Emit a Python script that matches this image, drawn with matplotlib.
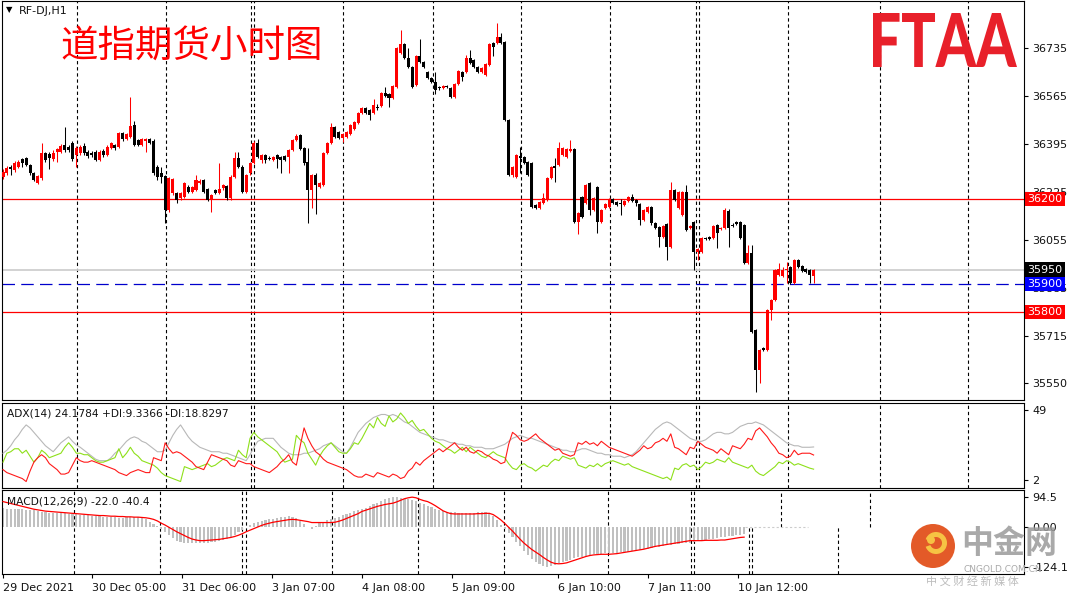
import matplotlib
matplotlib.use("Agg")
import matplotlib.pyplot as plt
import numpy as np
from matplotlib.patches import Circle, PathPatch, Wedge
from matplotlib.textpath import TextPath
from matplotlib.font_manager import FontProperties
from matplotlib.path import Path
from matplotlib.transforms import blended_transform_factory

# ---- hourly candles RF-DJ ----
opens = [
    36278, 36292, 36313, 36303, 36313, 36342, 36345, 36320, 36292, 36257,
    36274, 36363, 36359, 36342, 36366, 36366, 36391, 36384, 36398, 36356,
    36363, 36388, 36366, 36363, 36366, 36338, 36370, 36356, 36381, 36391,
    36384, 36434, 36412, 36419, 36462, 36409, 36391, 36405, 36412, 36405,
    36313, 36292, 36281, 36161, 36221, 36221, 36204, 36207, 36242, 36225,
    36232, 36257, 36267, 36235, 36196, 36232, 36221, 36239, 36246, 36204,
    36278, 36345, 36313, 36225, 36292, 36327, 36398, 36338, 36356, 36345,
    36338, 36356, 36349, 36352, 36349, 36373, 36409, 36427, 36381, 36331,
    36232, 36285, 36242, 36250, 36363, 36398, 36455, 36437, 36416, 36419,
    36430, 36448, 36469, 36504, 36522, 36515, 36504, 36526, 36529, 36575,
    36572, 36558, 36596, 36717, 36749, 36699, 36667, 36604, 36706, 36685,
    36650, 36628, 36614, 36596, 36593, 36600, 36593, 36561, 36607, 36650,
    36650, 36699, 36692, 36667, 36650, 36639, 36674, 36752, 36752, 36773,
    36756, 36480, 36285, 36278, 36352, 36349, 36331, 36327, 36179, 36168,
    36186, 36196, 36274, 36317, 36320, 36356, 36349, 36370, 36377, 36119,
    36207, 36186, 36257, 36161, 36242, 36119, 36168, 36172, 36200, 36189,
    36186, 36179, 36193, 36207, 36196, 36182, 36126, 36154, 36172, 36115,
    36101, 36065, 36112, 36030, 36232, 36168, 36143, 36225, 36097, 36119,
    36012, 36012, 36062, 36065, 36062, 36108, 36094, 36097, 36158, 36108,
    36119, 36119, 36108, 35973, 36009, 35736, 35595, 35673, 35665, 35807,
    35842, 35931, 35927, 35949, 35959, 35903, 35984, 35963, 35952, 35949, 35927,
]
closes = [
    36296, 36310, 36306, 36327, 36331, 36327, 36320, 36292, 36267, 36281,
    36363, 36338, 36345, 36363, 36377, 36388, 36373, 36373, 36342, 36381,
    36384, 36363, 36352, 36356, 36338, 36366, 36356, 36384, 36398, 36381,
    36434, 36412, 36430, 36458, 36391, 36391, 36412, 36412, 36398, 36292,
    36278, 36278, 36161, 36274, 36271, 36196, 36221, 36257, 36225, 36242,
    36267, 36264, 36225, 36196, 36214, 36221, 36235, 36250, 36204, 36278,
    36345, 36313, 36225, 36285, 36327, 36398, 36349, 36356, 36338, 36342,
    36349, 36342, 36338, 36338, 36373, 36409, 36423, 36377, 36327, 36232,
    36285, 36250, 36257, 36363, 36398, 36455, 36419, 36416, 36430, 36437,
    36462, 36473, 36504, 36522, 36504, 36497, 36533, 36522, 36575, 36565,
    36558, 36600, 36735, 36749, 36699, 36667, 36596, 36706, 36685, 36667,
    36628, 36614, 36586, 36593, 36600, 36596, 36561, 36607, 36653, 36632,
    36699, 36681, 36667, 36650, 36664, 36678, 36749, 36738, 36773, 36752,
    36480, 36285, 36313, 36356, 36345, 36327, 36285, 36172, 36168, 36189,
    36204, 36274, 36313, 36310, 36381, 36381, 36377, 36377, 36119, 36150,
    36136, 36250, 36161, 36204, 36119, 36161, 36182, 36200, 36186, 36179,
    36182, 36193, 36207, 36193, 36186, 36126, 36161, 36172, 36115, 36097,
    36065, 36104, 36030, 36232, 36196, 36225, 36225, 36090, 36104, 36012,
    36023, 36062, 36058, 36058, 36104, 36080, 36097, 36161, 36097, 36104,
    36112, 36062, 35973, 36009, 35729, 35595, 35665, 35665, 35807, 35842,
    35949, 35952, 35949, 35952, 35903, 35984, 35959, 35945, 35942, 35931, 35949,
]
highs = [
    36306, 36317, 36320, 36335, 36338, 36345, 36349, 36324, 36296, 36285,
    36398, 36366, 36366, 36373, 36381, 36395, 36455, 36391, 36405, 36388,
    36391, 36398, 36373, 36370, 36373, 36373, 36377, 36391, 36402, 36395,
    36437, 36437, 36434, 36561, 36476, 36412, 36416, 36416, 36416, 36412,
    36320, 36313, 36285, 36278, 36274, 36225, 36225, 36260, 36250, 36246,
    36285, 36271, 36271, 36239, 36218, 36235, 36327, 36253, 36250, 36285,
    36366, 36366, 36320, 36289, 36331, 36405, 36412, 36359, 36359, 36352,
    36352, 36359, 36352, 36356, 36377, 36412, 36430, 36430, 36384, 36381,
    36289, 36292, 36260, 36366, 36402, 36469, 36458, 36441, 36434, 36441,
    36465, 36476, 36508, 36526, 36526, 36519, 36554, 36536, 36579, 36596,
    36575, 36604, 36738, 36798, 36752, 36735, 36671, 36710, 36766, 36689,
    36653, 36632, 36650, 36600, 36604, 36604, 36596, 36611, 36657, 36653,
    36710, 36727, 36696, 36671, 36667, 36681, 36752, 36756, 36823, 36788,
    36759, 36483, 36317, 36359, 36384, 36352, 36335, 36331, 36182, 36193,
    36221, 36278, 36317, 36345, 36402, 36384, 36381, 36409, 36381, 36154,
    36211, 36253, 36260, 36207, 36246, 36165, 36186, 36204, 36204, 36193,
    36200, 36196, 36211, 36218, 36200, 36186, 36165, 36175, 36175, 36119,
    36104, 36108, 36115, 36260, 36235, 36228, 36228, 36250, 36108, 36122,
    36027, 36065, 36065, 36069, 36108, 36112, 36101, 36168, 36165, 36115,
    36122, 36122, 36112, 36037, 36037, 35740, 35669, 35676, 35811, 35846,
    35952, 35973, 35959, 35977, 35963, 35988, 35988, 35966, 35956, 35952, 35952,
]
lows = [
    36271, 36285, 36285, 36296, 36310, 36313, 36317, 36285, 36264, 36253,
    36267, 36331, 36306, 36335, 36331, 36363, 36366, 36366, 36335, 36313,
    36356, 36356, 36345, 36349, 36335, 36335, 36349, 36352, 36377, 36373,
    36381, 36405, 36409, 36416, 36388, 36388, 36388, 36366, 36395, 36285,
    36267, 36257, 36115, 36154, 36214, 36186, 36196, 36204, 36221, 36221,
    36228, 36253, 36221, 36193, 36154, 36218, 36218, 36232, 36196, 36196,
    36274, 36310, 36221, 36221, 36285, 36324, 36345, 36327, 36327, 36338,
    36335, 36310, 36292, 36335, 36292, 36370, 36405, 36373, 36320, 36115,
    36168, 36147, 36239, 36246, 36359, 36395, 36416, 36412, 36402, 36416,
    36427, 36444, 36465, 36501, 36501, 36480, 36501, 36515, 36526, 36561,
    36526, 36554, 36593, 36713, 36696, 36664, 36593, 36600, 36681, 36664,
    36625, 36611, 36572, 36586, 36589, 36593, 36558, 36558, 36604, 36618,
    36646, 36678, 36664, 36646, 36646, 36635, 36671, 36706, 36749, 36749,
    36476, 36281, 36278, 36274, 36292, 36324, 36281, 36168, 36165, 36165,
    36182, 36193, 36271, 36260, 36317, 36352, 36345, 36366, 36115, 36076,
    36133, 36182, 36143, 36158, 36080, 36115, 36165, 36168, 36182, 36175,
    36143, 36175, 36189, 36189, 36175, 36108, 36122, 36150, 36108, 36094,
    36030, 36062, 35984, 36027, 36193, 36165, 36140, 36087, 36094, 35949,
    35984, 36009, 36055, 36055, 36058, 36027, 36090, 36094, 36030, 36101,
    36108, 36058, 35970, 35970, 35726, 35517, 35549, 35662, 35662, 35772,
    35839, 35927, 35924, 35903, 35899, 35899, 35956, 35942, 35938, 35903, 35903,
]

# ---- ADX(14) panel ----
adx_main = [
    20, 22, 25, 29, 32, 36, 39, 37, 34, 31, 28, 25, 23, 21, 24, 27, 29, 31, 28, 25.5,
    24, 22, 20, 18, 16, 15, 15, 15, 17, 20, 22, 25, 28, 30, 31, 30, 28, 27, 25, 23,
    21, 21, 22, 27, 32, 36, 39, 35, 31, 28, 26, 24, 23, 22, 21, 21, 21, 20, 20, 19,
    18, 17, 16, 15, 19, 24, 28, 29, 30, 30, 30, 27, 24, 22, 20, 19, 19, 19, 20, 20,
    21, 22, 23, 25, 26, 27, 25, 23, 21, 20, 24, 29, 34, 37, 40, 42, 44, 45, 46, 46,
    45, 46, 45, 43, 41, 40, 38, 36, 34, 33, 32, 31, 30, 29, 29, 28, 27, 27, 26, 26,
    25, 25, 24, 24, 24, 23, 23, 23, 24, 25, 26, 28, 30, 31, 32, 31, 30, 30, 29, 28,
    27, 26, 25, 24, 23, 22, 22, 21, 21, 22, 23, 23, 22, 21, 20, 20, 19, 19, 18, 18,
    18, 17, 18, 19, 21, 24, 27, 30, 33, 36, 38, 40, 41, 40, 38, 36, 34, 32, 30, 29,
    28, 28, 29, 31, 33, 34, 34, 33, 33, 34, 36, 38, 39, 40, 40, 41, 40, 39, 37, 35,
    33, 31, 29, 27, 26, 25, 25, 24, 24, 24, 24.2,
]
plus_di = [
    14, 20, 21, 23, 23, 20, 22, 18, 14, 17, 22, 20, 17, 18, 19, 20, 24, 27, 24, 20,
    20, 19, 19, 17, 15, 14, 14, 15, 16, 17, 23, 17, 20, 24, 20, 18, 15, 14, 13, 12,
    10, 7, 5, 4, 3, 2, 1, 11, 10, 9, 10, 11, 12, 13, 11, 12, 14, 16, 17, 16,
    15, 22, 19, 17, 30, 34, 31, 29, 27, 25, 23, 21, 17, 14, 15, 16, 32, 29, 27, 20,
    16, 12, 18, 22, 25, 27, 24, 21, 20, 20, 23, 27, 26, 30, 35, 40, 37, 44, 40, 38,
    45, 41, 43, 47, 44, 40, 42, 38, 35, 36, 33, 30, 28, 27, 25, 23, 22, 20, 22, 24,
    21, 24, 22, 20, 18, 17, 19, 21, 19, 18, 17, 13, 10, 9, 12, 13, 11, 10, 8, 10,
    12, 11, 14, 16, 15, 18, 17, 16, 17, 12, 11, 10, 12, 11, 13, 11, 13, 14, 15, 14,
    13, 12, 13, 11, 10, 9, 8, 7, 6, 5, 4, 3, 4, 2, 10, 9, 12, 13, 11, 12,
    9, 11, 14, 13, 14, 16, 15, 14, 17, 14, 13, 12, 11, 10, 12, 8, 6, 5, 7, 9,
    11, 14, 13, 15, 14, 12, 13, 12, 11, 10, 9.3,
]
minus_di = [
    9, 7, 6, 5, 4, 3, 1, 8, 14, 17, 19, 17, 13, 11, 9, 6, 6, 7, 12, 17,
    15, 14, 14, 15, 14, 13, 12, 11, 10, 9, 7, 6, 5, 7, 8, 9, 8, 7, 7, 17,
    16, 15, 27, 23, 20, 21, 20, 18, 16, 14, 11, 10, 9, 14, 19, 18, 17, 16, 15, 12,
    11, 15, 14, 13, 13, 11, 10, 9, 8, 7, 9, 11, 14, 16, 19, 14, 12, 25, 37, 30,
    25, 21, 19, 16, 14, 13, 12, 11, 10, 9, 7, 5, 4, 4, 6, 5, 4, 7, 6, 5,
    4, 6, 5, 3, 4, 8, 10, 14, 12, 15, 17, 19, 21, 23, 21, 23, 25, 27, 24, 22,
    24, 21, 20, 22, 21, 19, 18, 16, 15, 13, 14, 26, 34, 32, 29, 28, 29, 31, 33, 30,
    28, 26, 24, 22, 23, 20, 19, 18, 19, 27, 26, 28, 26, 27, 25, 28, 26, 24, 23, 22,
    21, 20, 19, 18, 20, 22, 25, 23, 24, 27, 28, 30, 28, 33, 24, 23, 21, 19, 24, 23,
    28, 26, 24, 23, 22, 20, 23, 21, 19, 25, 24, 23, 26, 30, 29, 35, 37, 34, 31, 27,
    24, 20, 19, 17, 18, 22, 19, 20, 20, 20, 18.8,
]

# ---- MACD(12,26,9) panel ----
macd_hist = [
    60, 59, 58, 58, 57, 57, 56, 55, 53, 50, 48, 47, 46, 45, 45, 44, 44, 43, 42,
    41, 40, 39, 38, 37, 36, 35, 34, 33, 32, 31, 30, 30, 31, 32, 33, 31, 28, 25,
    18, 10, 3, -5, -15, -25, -35,
    -42, -46, -48, -49, -50, -50, -50, -49, -48, -47, -45, -43, -40, -36, -30, -24,
    -16, -8, 2, 8, 12, 16, 20, 22, 25, 27, 29, 31, 33, 35,
    34, 28, 20, 10, 2, -5, 5, 12, 18, 22, 26, 30,
    34, 38, 42, 46, 50, 54, 58, 62, 67, 72, 78, 84, 89, 93, 95,
    94, 92, 90, 88, 85, 82, 78, 73, 68, 63, 58, 54, 51,
    49, 48, 47, 46, 46, 45, 45, 46, 47, 48, 49, 45,
    35, 22, 8, -5, -18, -30, -45, -60, -75, -88, -100, -110, -117,
    -122, -124, -122, -118, -113, -110, -106, -102, -98, -95, -92, -89, -87,
    -85, -84, -83, -82, -82, -81, -80, -79, -78, -77, -75, -73, -71,
    -69, -67, -65, -63, -61, -59, -57, -56, -54, -52, -51, -49, -48,
    -46, -44, -42, -40, -38, -36, -34, -32, -30, -28, -26, -25, -23, -22,
]
macd_signal = [
    81, 78, 75, 72, 69, 66, 63, 60, 57, 55, 53, 51, 50, 49, 48, 47, 46, 45, 44,
    43, 42, 41, 40, 39, 38, 37, 37, 36, 35, 35, 34, 34, 33, 33, 32, 32, 31, 30,
    28, 25, 20, 13, 7, 0, -7,
    -14, -20, -26, -32, -37, -40, -42, -42, -41, -40, -39, -38, -36, -34, -32, -29,
    -25, -20, -14, -9, -4, 1, 6, 10, 13, 16, 18, 20, 22, 24,
    25, 24, 22, 20, 18, 15, 15, 15, 15, 15, 15, 16,
    19, 23, 28, 33, 38, 43, 50, 54, 58, 62, 66, 69, 72, 74, 76,
    80, 85, 90, 93, 95, 93, 88, 84, 81, 75, 68, 60, 52,
    47, 43, 42, 42, 42, 42, 42, 42, 43, 43, 44, 44,
    40, 32, 23, 12, 0, -12, -25, -38, -50, -60, -70, -78, -86,
    -95, -103, -110, -114, -115, -114, -112, -108, -104, -100, -96, -92, -89,
    -87, -86, -85, -85, -85, -84, -83, -81, -79, -77, -75, -73, -71,
    -69, -66, -63, -60, -58, -56, -54, -52, -50, -48, -46, -44, -42,
    -42, -42, -42, -41, -41, -41, -41, -40, -40, -38, -36, -34, -32, -31,
]

price_ticks = [36735, 36565, 36395, 36225, 36055, 35885, 35715, 35550]
level_lines = [36200, 35800]
entry_level = 35900
bid_price = 35950
time_labels = ["29 Dec 2021", "30 Dec 05:00", "31 Dec 06:00", "3 Jan 07:00", "4 Jan 08:00",
               "5 Jan 09:00", "6 Jan 10:00", "7 Jan 11:00", "10 Jan 12:00"]

# ---- layout (pixel based, like the terminal screenshot) ----
W, H = 1080, 598
BAR_PX = 3.86
X0 = 3


def bar_at(px):
    return (px - X0) / BAR_PX


def box(top, bottom):
    return [2 / W, 1 - bottom / H, 1022 / W, (bottom - top) / H]


fig = plt.figure(figsize=(W / 100, H / 100), dpi=100)
fig.patch.set_facecolor("white")
ax = fig.add_axes(box(1, 400))
ax_adx = fig.add_axes(box(403, 487.5))
ax_macd = fig.add_axes(box(490, 573.5))
xlim = (bar_at(2), bar_at(1024))
txt_col = "#111111"
cjk = ["Noto Sans CJK SC", "DejaVu Sans"]

for a in (ax, ax_adx, ax_macd):
    a.set_xlim(*xlim)
    for s in a.spines.values():
        s.set_linewidth(0.8)
        s.set_color("black")
    a.yaxis.tick_right()
    a.tick_params(axis="y", direction="out", length=3, width=0.8, pad=3,
                  labelsize=8, labelcolor=txt_col)
    a.tick_params(axis="x", bottom=False, labelbottom=False)

# candles
o = np.array(opens, float)
c = np.array(closes, float)
hi = np.array(highs, float)
lo = np.array(lows, float)
n = min(len(o), len(c), len(hi), len(lo))
o, c, hi, lo = o[:n], c[:n], hi[:n], lo[:n]
x = np.arange(n)
up = c >= o
cols = np.where(up, "#ff0000", "#000000")
ax.vlines(x, lo, hi, colors=cols, lw=0.75, zorder=3)
body = c - o
body = np.where(np.abs(body) < 4, np.where(up, 4.0, -4.0), body)
ax.bar(x, body, bottom=o, width=0.78, color=cols, linewidth=0, zorder=3)

ax.set_ylim(35488.5, 36900.9)
ax.set_yticks(price_ticks)
ax.set_yticklabels([str(p) for p in price_ticks])

for lvl in level_lines:
    ax.axhline(lvl, color="#ff0000", lw=0.9, zorder=2)
ax.axhline(bid_price, color="#cfcfcf", lw=1.3, zorder=1)
ax.axhline(entry_level, color="#0000cc", lw=0.9, ls=(0, (10, 5)), zorder=2)

trans = blended_transform_factory(ax.transAxes, ax.transData)
for price, fc in [(36200, "#ff0000"), (35950, "#000000"), (35900, "#0000ff"), (35800, "#ff0000")]:
    ax.text(1.0035, price, str(price), transform=trans, color="white", fontsize=8,
            va="center", ha="left", zorder=6, clip_on=False,
            bbox=dict(boxstyle="square,pad=0.2", fc=fc, ec="none"))

# vertical dashed separators
grid_px = [77, 166, 251, 254, 343, 433, 521, 610, 696, 699, 788, 880, 968]
for a in (ax, ax_adx):
    for g in grid_px:
        a.axvline(bar_at(g), color="black", lw=0.8, ls=(0, (3, 2.5)), zorder=0)

# ADX panel
na = min(len(adx_main), len(plus_di), len(minus_di))
xa = np.arange(na)
ax_adx.plot(xa, adx_main[:na], color="#b8b8b8", lw=0.8, zorder=3)
ax_adx.plot(xa, plus_di[:na], color="#8ee01a", lw=0.8, zorder=3)
ax_adx.plot(xa, minus_di[:na], color="#ff1a1a", lw=0.8, zorder=3)
ax_adx.set_ylim(-3.0, 53.7)
ax_adx.set_yticks([49, 2])
ax_adx.set_yticklabels(["49", "2"])

# MACD panel
nm = min(len(macd_hist), len(macd_signal))
xm = np.arange(nm)
ax_macd.bar(xm, macd_hist[:nm], width=0.55, color="#c0c0c0", linewidth=0, zorder=2)
ax_macd.plot(xm, macd_signal[:nm], color="#ff0000", lw=0.9, zorder=3)
ax_macd.hlines(0, bar_at(745), bar_at(808), color="#cccccc", lw=0.8, ls=(0, (2, 2)))
ax_macd.set_ylim(-145.5, 117.5)
ax_macd.set_yticks([94.5, 0, -124.1])
ax_macd.set_yticklabels(["94.5", "0.00", "-124.1"])
for g in [74, 160, 242, 246, 332, 418, 504, 608, 691, 694]:
    ax_macd.axvline(bar_at(g), color="black", lw=0.8, ls=(0, (3, 2.5)), zorder=0)
for g in [781, 870]:
    ax_macd.axvline(bar_at(g), ymin=(0 + 145.5) / 263, ymax=1, color="black", lw=0.8,
                    ls=(0, (3, 2.5)), zorder=0)
for g in [749, 752, 838]:
    ax_macd.axvline(bar_at(g), ymin=0, ymax=(0 + 145.5) / 263, color="black", lw=0.8,
                    ls=(0, (3, 2.5)), zorder=0)

label_px = [3, 92, 182, 272, 362, 452, 558, 648, 738]
ax_macd.tick_params(axis="x", bottom=True, labelbottom=True, direction="out", length=3,
                    width=0.8, pad=4, labelsize=8, labelcolor=txt_col)
ax_macd.set_xticks([bar_at(p) for p in label_px])
ax_macd.set_xticklabels(time_labels)
for t in ax_macd.get_xticklabels():
    t.set_horizontalalignment("left")

# ---- overlay in pixel coordinates for captions and logos ----
ov = fig.add_axes([0, 0, 1, 1])
ov.set_xlim(0, W)
ov.set_ylim(H, 0)
ov.axis("off")
ov.patch.set_alpha(0)

ov.text(6, 10, "\u25bc", fontsize=6, color="black", va="center", ha="left")
ov.text(19, 11, "RF-DJ,H1", fontsize=8, color=txt_col, va="center", ha="left")
ov.text(60, 47, "道指期货小时图", fontsize=27, color="#ff0000", va="center", ha="left",
        family=cjk, fontweight="light")
ov.text(7, 414, "ADX(14) 24.1784 +DI:9.3366 -DI:18.8297", fontsize=7.7, color=txt_col,
        va="center", ha="left")
ov.text(7, 501, "MACD(12,26,9) -22.0 -40.4", fontsize=7.7, color=txt_col,
        va="center", ha="left")

# FTAA logo
fp = FontProperties(family=["Lato", "DejaVu Sans"], weight=900)
tp = TextPath((0, 0), "FTAA", size=100, prop=fp)
bb = tp.get_extents()
lx0, lx1, ly0, ly1 = 873, 1017, 13, 67
v = tp.vertices.copy()
vx = lx0 + (v[:, 0] - bb.x0) * (lx1 - lx0) / bb.width
vy = ly1 - (v[:, 1] - bb.y0) * (ly1 - ly0) / bb.height
ov.add_patch(PathPatch(Path(np.column_stack([vx, vy]), tp.codes), fc="#e8202a", ec="none"))

# 中金网 watermark
ov.add_patch(Circle((933, 546), 22, fc="#e2511c", ec="none", alpha=0.95))
ov.add_patch(Wedge((936, 543), 11, 200, 520, width=5, fc="#f6c343", ec="none"))
ov.add_patch(Circle((931, 540), 4, fc="#f6c343", ec="none"))
ov.text(961, 544, "中金网", fontsize=23, color="#9a9a9a", va="center", ha="left",
        family=cjk, fontweight="bold", alpha=0.85)
ov.text(963, 570, "CNGOLD.COM.CN", fontsize=6.5, color="#a8a8a8", va="center", ha="left")
ov.text(926, 581, "中 文 财 经 新 媒 体", fontsize=8, color="#bdbdbd", va="center",
        ha="left", family=cjk)

fig.savefig("out.png", dpi=100, facecolor="white")
